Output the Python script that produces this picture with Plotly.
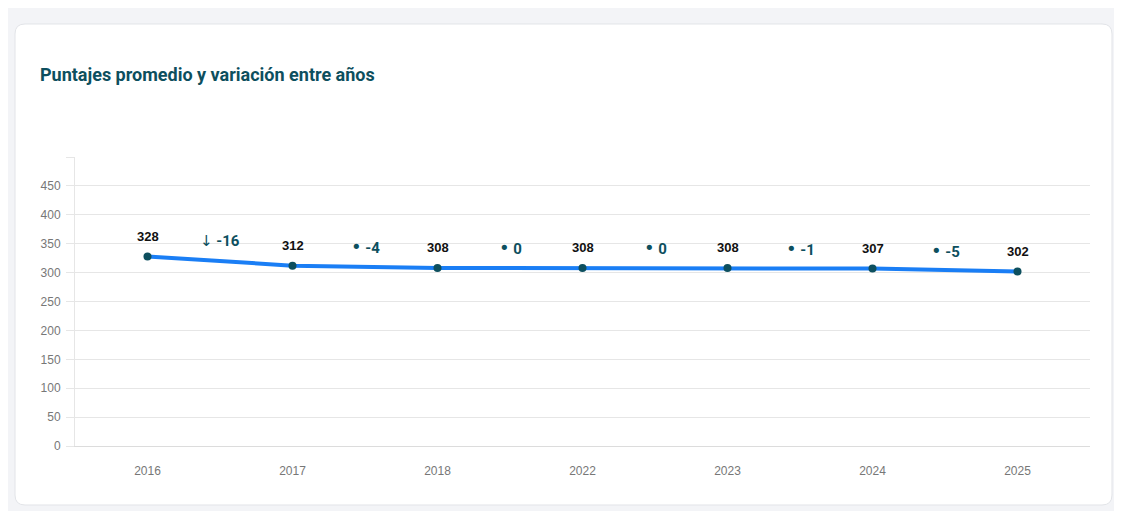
import plotly.graph_objects as go

years = ["2016", "2017", "2018", "2022", "2023", "2024", "2025"]
scores = [328, 312, 308, 308, 308, 307, 302]
variation_arrows = ["↓", "•", "•", "•", "•", "•"]
variation_values = ["-16", "-4", "0", "0", "-1", "-5"]
y_ticks = [0, 50, 100, 150, 200, 250, 300, 350, 400, 450, 500]
y_tick_text = ["0", "50", "100", "150", "200", "250", "300", "350", "400", "450", ""]

OFF = 8  # page body margin
W, H = 1122 - OFF, 511 - OFF
L, R, T, B = 75 - OFF, 1090 - OFF, 157 - OFF, 446 - OFF  # plot area px in figure


def px_x(px):
    return (px - OFF - L) / (R - L)


def px_y(py):
    return (B - (py - OFF)) / (B - T)


TEAL = "#0d4f5e"
GRID = "#e6e6e6"

fig = go.Figure()
fig.add_trace(go.Scatter(
    x=list(range(len(years))), y=scores, mode="lines+markers",
    line=dict(color="#1a7ef5", width=4),
    marker=dict(color=TEAL, size=8),
    hoverinfo="skip", showlegend=False,
))

# value labels
for i, v in enumerate(scores):
    fig.add_annotation(x=i, y=v, text=f"<b>{v}</b>", showarrow=False,
                       yshift=20, font=dict(family="Liberation Sans, Arial", size=13, color="#111111"))

# variation labels
for i, (sym, val) in enumerate(zip(variation_arrows, variation_values)):
    mid = (scores[i] + scores[i + 1]) / 2
    if sym == "•":
        txt = f"<span style='font-size:18px;font-family:DejaVu Sans'>•</span> <b>{val}</b>"
    else:
        txt = f"<span style='font-family:DejaVu Sans'>{sym}</span> <b>{val}</b>"
    fig.add_annotation(x=i + 0.5, y=mid, text=txt, showarrow=False,
                       yshift=20, font=dict(family="Roboto", size=15, color=TEAL))

# top gridline (value 500)
fig.add_shape(type="line", xref="paper", yref="y", x0=px_x(67), x1=1, y0=500, y1=500,
              line=dict(color=GRID, width=1), layer="below")

# card shape (rounded rect) in paper coords
cx0, cx1, cy0, cy1, r = 15, 1112, 24, 505, 10


def P(px, py):
    return f"{px_x(px):.5f},{px_y(py):.5f}"


path = (f"M {P(cx0 + r, cy0)} L {P(cx1 - r, cy0)} Q {P(cx1, cy0)} {P(cx1, cy0 + r)} "
        f"L {P(cx1, cy1 - r)} Q {P(cx1, cy1)} {P(cx1 - r, cy1)} "
        f"L {P(cx0 + r, cy1)} Q {P(cx0, cy1)} {P(cx0, cy1 - r)} "
        f"L {P(cx0, cy0 + r)} Q {P(cx0, cy0)} {P(cx0 + r, cy0)} Z")
fig.add_shape(type="path", path=path, xref="paper", yref="paper", layer="below",
              fillcolor="white", line=dict(color="#e2e4e8", width=1))

fig.update_layout(
    width=W, height=H,
    margin=dict(l=L, r=W - R, t=T, b=H - B),
    paper_bgcolor="#f3f4f7",
    plot_bgcolor="rgba(0,0,0,0)",
    title=dict(text="<b>Puntajes promedio y variación entre años</b>",
               x=(40 - OFF) / W, xref="container", xanchor="left",
               y=1 - (75 - OFF) / H, yref="container", yanchor="middle",
               font=dict(family="Roboto", size=18, color=TEAL)),
    xaxis=dict(
        range=[-0.5, len(years) - 0.5],
        tickmode="array", tickvals=list(range(len(years))), ticktext=years,
        showgrid=False, zeroline=False, showline=True, linecolor="#dcdcdc", linewidth=1,
        ticks="", ticklabelstandoff=14,
        tickfont=dict(family="Liberation Sans, Arial", size=12, color="#777777"),
        fixedrange=True,
    ),
    yaxis=dict(
        range=[0, 500], tickmode="array", tickvals=y_ticks, ticktext=y_tick_text,
        showgrid=True, gridcolor=GRID, gridwidth=1, zeroline=False,
        showline=True, linecolor=GRID, linewidth=1,
        ticks="outside", ticklen=8, tickcolor=GRID, ticklabelstandoff=3,
        tickfont=dict(family="Liberation Sans, Arial", size=12, color="#777777"),
        fixedrange=True,
    ),
)

fig.write_html("out.html")
